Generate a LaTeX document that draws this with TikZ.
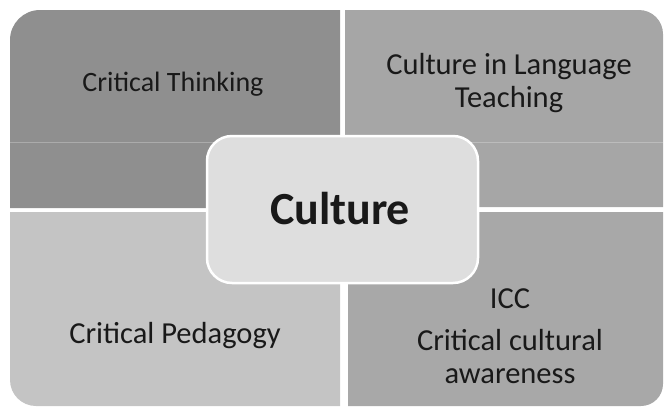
\documentclass[tikz,border=0pt]{standalone}
\usepackage{fontspec}
\setmainfont{Carlito}
\definecolor{tlgray}{gray}{0.56}
\definecolor{trgray}{gray}{0.65}
\definecolor{blgray}{gray}{0.77}
\definecolor{brgray}{gray}{0.66}
\definecolor{hubgray}{gray}{0.87}
\definecolor{inkgray}{gray}{0.1}
\tikzset{
QUAD/.style={draw=none, fill=#1},
SEAM/.style={draw=white, opacity=0.25, line width=0.6pt},
HUB/.style={draw=white, fill=hubgray, line width=2.5pt, rounded corners=25pt},
LABEL/.style={text=inkgray, align=center, font=\fontsize{30.5}{33}\selectfont},
BIGLABEL/.style={text=inkgray, font=\bfseries\fontsize{46}{50}\selectfont},
}
\begin{document}
\begin{tikzpicture}
[x=1pt, y=-1pt]
	\useasboundingbox (0,0) rectangle (665,408);
	% four quadrants, only the outer corner rounded
	\path[QUAD=tlgray] (10,208) -- (10,40) arc[start angle=180, end angle=270, radius=30] -- (340,10) -- (340,208) -- cycle;
	\path[QUAD=trgray] (345,10) -- (639,10) arc[start angle=270, end angle=360, radius=24] -- (663,207) -- (345,207) -- cycle;
	\path[QUAD=blgray] (10,212) -- (340,212) -- (340,406) -- (36,406) arc[start angle=90, end angle=180, radius=26] -- cycle;
	\path[QUAD=brgray] (348,212) -- (663,212) -- (663,384) arc[start angle=0, end angle=90, radius=22] -- (348,406) -- cycle;
	\path[SEAM] (10,142) -- (340,142) (345,142) -- (663,142);
	% centre
	\path[HUB] (207,136) rectangle (478,283);
	\node[BIGLABEL, anchor=base] (culture) at (340,224) {Culture};
	\node[LABEL, anchor=base, font=\fontsize{28}{33}\selectfont] (thinking) at (173,91) {Critical Thinking};
	\node[LABEL] (teaching) at (509,83) {Culture in Language\\Teaching};
	\node[LABEL, anchor=base] (pedagogy) at (175,343) {Critical Pedagogy};
	\node[LABEL] (icc) at (510,336) {ICC\\[9pt]Critical cultural\\awareness};
\end{tikzpicture}
\end{document}
